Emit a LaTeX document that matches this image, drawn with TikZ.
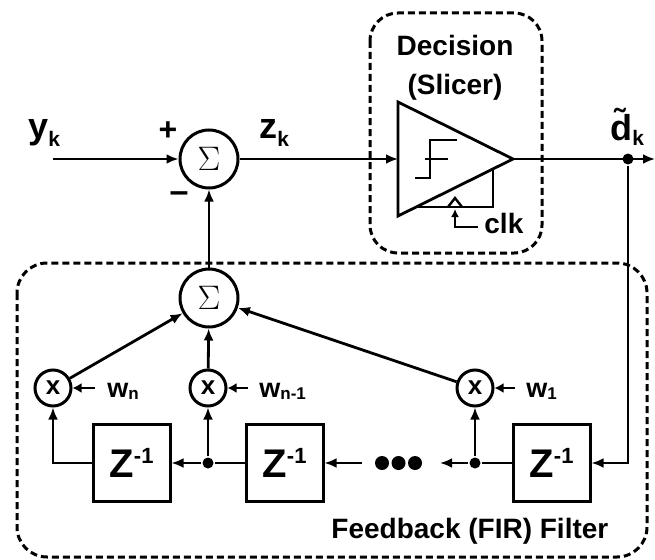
\documentclass[tikz,border=0pt]{standalone}
\usepackage{fontspec}
\setsansfont{Liberation Sans}
\usetikzlibrary{arrows.meta}
\newcommand{\fsz}[1]{\fontsize{#1}{#1}\selectfont}
\begin{document}
\begin{tikzpicture}[x=1pt,y=-1pt,
  line width=2.8pt,
  >={Latex[length=12pt,width=10pt]},
  sumc/.style={draw,circle,line width=3pt,minimum size=58pt,inner sep=0pt,font=\rmfamily\fsz{34}},
  mult/.style={draw,circle,line width=3pt,minimum size=36pt,inner sep=0pt,font=\sffamily\bfseries\fsz{26}},
  zbox/.style={draw,rectangle,line width=3pt,minimum size=77pt,inner sep=0pt,font=\sffamily\bfseries\fsz{40}},
  jdot/.style={circle,fill,inner sep=0pt,minimum size=11pt},
  bigdot/.style={circle,fill,inner sep=0pt,minimum size=14pt},
  lab/.style={font=\sffamily\bfseries\fsz{28},inner sep=0pt},
  sig/.style={font=\sffamily\bfseries\fsz{36},inner sep=0pt},
  wlab/.style={font=\sffamily\bfseries\fsz{27},inner sep=0pt,anchor=base west},
  dbox/.style={draw,dash pattern=on 7pt off 4pt,line width=3pt},
]
\useasboundingbox (0,0) rectangle (655,559);

% dashed boxes
\draw[dbox,rounded corners=28pt] (370,13) rectangle (542,253);
\draw[dbox,rounded corners=30pt] (17,263) rectangle (647,557);

% summers
\node[sumc] (s1) at (209,159) {Σ};
\node[sumc] (s2) at (209,298) {Σ};

% input
\coordinate (yin) at (53,159);
\node[sig,anchor=base west] (yk) at (27,139) {y\raisebox{-8pt}{\fsz{21}k}};
\node[sig,anchor=base west] (zk) at (258,139) {z\raisebox{-8pt}{\fsz{21}k}};
\node[font=\sffamily\bfseries\fsz{32},inner sep=0pt] (plus) at (168,131) {+};
\node[font=\sffamily\bfseries\fsz{34},inner sep=0pt] (minus) at (179,197) {–};
\draw[->] (yin) -- (s1);

% slicer
\coordinate (tin) at (398,159);
\coordinate (tout) at (513,159);
\draw[line join=miter] (398,102) -- (tout) -- (398,216) -- cycle;
\draw (415,178) -- (430,178) -- (430,140) -- (457,140);
\draw (425,159) -- (448,159);
\draw (493,168.9) -- (493,207) -- (416,207);
\draw[line width=2.4pt] (448,207) -- (455,198) -- (462,207);
\node[lab,anchor=base west] (clk) at (483,233) {clk};
\coordinate (ck) at (455,209);
\draw[->,>={Latex[length=8pt,width=8pt]}] ([xshift=-5pt,yshift=-4pt]clk.west) -| (ck);
\node[lab] (dec) at (455,45) {Decision};
\node[lab,anchor=base] (slc) at (455,95) {(Slicer)};

\draw[->] (s1) -- (tin);
\coordinate (out) at (655,159);
\node[jdot] (dk) at (628,159) {};
\draw[->] (tout) -- (out);
\node[sig,anchor=base west] (dkl) at (609,140) {\~{d}\raisebox{-5pt}{\fsz{21}k}};

% FIR
\node[zbox] (z1) at (131.5,463) {Z\raisebox{14pt}{\fsz{22}-1}};
\node[zbox] (z2) at (284.5,463) {Z\raisebox{14pt}{\fsz{22}-1}};
\node[zbox] (z3) at (551.5,463) {Z\raisebox{14pt}{\fsz{22}-1}};
\node[mult] (m1) at (53,388) {x};
\node[mult] (m2) at (208,388) {x};
\node[mult] (m3) at (475,388) {x};
\node[jdot] (d2) at (208,463) {};
\node[jdot] (d3) at (475,463) {};
\node[bigdot] (e1) at (382,463) {};
\node[bigdot] (e2) at (398.5,463) {};
\node[bigdot] (e3) at (415,463) {};
\coordinate (a1) at (440,463);
\coordinate (a2) at (362,463);

\draw[->] (dk) |- (z3);
\draw (z3) -- (d3);
\draw[->] (d3) -- (a1);
\draw[->] (d3) -- (m3);
\draw[->] (a2) -- (z2);
\draw (z2) -- (d2);
\draw[->] (d2) -- (z1);
\draw[->] (d2) -- (m2);
\draw[->] (z1) -| (m1);
\draw[->] (m1) -- (s2);
\draw[->] (m2) -- (s2);
\draw[->] (m3) -- (s2);
\draw[->] (s2) -- (s1);

% weights
\coordinate (wa1) at (95,388);
\coordinate (wa2) at (248,388);
\coordinate (wa3) at (515,388);
\node[wlab] (wn) at (106,397) {w\raisebox{-2pt}{\fsz{17}n}};
\node[wlab] (wn1) at (258,397) {w\raisebox{-2pt}{\fsz{17}n-1}};
\node[wlab] (w1) at (525,397) {w\raisebox{-2pt}{\fsz{17}1}};
\draw[->,>={Latex[length=9pt,width=10pt]}] (wa1) -- (m1);
\draw[->,>={Latex[length=9pt,width=10pt]}] (wa2) -- (m2);
\draw[->,>={Latex[length=9pt,width=10pt]}] (wa3) -- (m3);

\node[lab,anchor=base west] (fb) at (330,538) {Feedback (FIR) Filter};
\end{tikzpicture}
\end{document}
